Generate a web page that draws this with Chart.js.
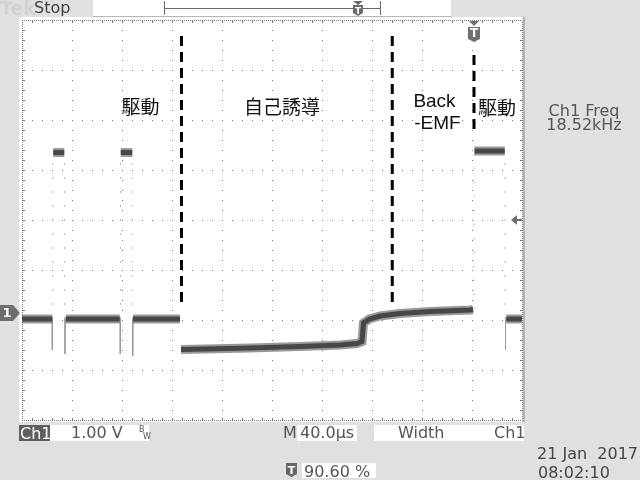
<!DOCTYPE html>
<html><head><meta charset="utf-8">
<script src="https://cdn.jsdelivr.net/npm/chart.js@4/dist/chart.umd.min.js"></script>
<style>html,body{margin:0;padding:0;background:#e0e0e0;overflow:hidden}canvas{display:block}</style>
</head><body><canvas id="c" width="640" height="480"></canvas>
<script>
// ---- data (time in µs, 40 µs/div; volts, 1 V/div, ground = 0) ----
const traceTimes = [0, 24.2, 24.6, 25.0, 33.8, 34.2, 35.0, 78.2, 78.6, 79.0, 88.2, 88.4, 88.8, 126.4, 126.8, 127.2, 182.4, 222.4, 254.4, 268.0, 272.0, 273.2, 278.0, 286.4, 302.4, 326.4, 358.4, 360.8, 361.2, 362.0, 386.2, 386.6, 387.4, 400];
const traceVolts = [-0.12, -0.12, null, 3.21, 3.21, null, -0.12, -0.12, null, 3.21, 3.21, null, -0.12, -0.12, null, -0.73, -0.70, -0.67, -0.64, -0.61, -0.57, -0.20, -0.12, -0.06, -0.01, 0.03, 0.06, 0.07, null, 3.24, 3.24, null, -0.12, -0.12];
const edgeTimes = [24.6, 34.0, 78.8, 88.2, 361.6, 386.4];
const edgeLow = [-0.12, -0.12, -0.12, -0.12, 0.07, -0.12];
const edgeHigh = [3.21, 3.21, 3.21, 3.21, 3.24, 3.24];
const spikeTimes = [24.2, 34.4, 78.6, 88.6, 386.8];
const spikeBase = [-0.12, -0.12, -0.12, -0.12, -0.12];
const spikeDepths = [-0.74, -0.82, -0.82, -0.86, -0.74];
const markerTimes = [127.6, 296.2, 361.6];
const markerTops = [5.54, 5.54, 5.16];
const markerBottoms = [0.18, 0.20, 3.56];
const labelTexts = ['駆動', '自己誘導', 'Back', '-EMF', '駆動'];
const labelTimes = [94.8, 208.0, 330.0, 332.4, 380.0];
const labelVolts = [4.12, 4.12, 4.23, 3.79, 4.10];
const groundVolts = 0;
const triggerLevel = 1.86;
const triggerTime = 361.6;
const timeRange = [0, 400];
const voltRange = [-2.14, 5.86];

// ---- build datasets ----
const tracePts = traceTimes.map((t, i) => ({x: t, y: traceVolts[i]}));
const edgePts = [];
edgeTimes.forEach((t, i) => { edgePts.push({x: t, y: edgeLow[i]}, {x: t, y: edgeHigh[i]}, {x: t, y: null}); });
const spikePts = [];
spikeTimes.forEach((t, i) => { spikePts.push({x: t, y: spikeBase[i]}, {x: t, y: spikeDepths[i]}, {x: t, y: null}); });
const markerSets = markerTimes.map((t, i) => ({
  data: [{x: t, y: markerTops[i]}, {x: t, y: markerBottoms[i]}],
  borderColor: '#000', borderWidth: 3, borderDash: [10, 6], order: 0
}));

const SF = '"DejaVu Sans", sans-serif';
function shield(c, x0, y0, w, h) {
  c.beginPath();
  c.moveTo(x0, y0); c.lineTo(x0 + w, y0); c.lineTo(x0 + w, y0 + h - 3);
  c.lineTo(x0 + w / 2, y0 + h); c.lineTo(x0, y0 + h - 3); c.closePath(); c.fill();
}

const scopePlugin = {
  id: 'scope',
  beforeDraw(chart) {
    const c = chart.ctx, a = chart.chartArea;
    c.save();
    c.fillStyle = '#e0e0e0'; c.fillRect(0, 0, 640, 480);
    c.fillStyle = '#ffffff'; c.fillRect(19, 17, 504, 405);
    c.fillStyle = '#b4b4b4'; c.fillRect(523, 17, 2, 405);
    const L = Math.round(a.left), T = Math.round(a.top), R = Math.round(a.right), B = Math.round(a.bottom);
    const dx = (R - L) / 10, dy = (B - T) / 8;
    c.fillStyle = '#757575';
    for (let i = 1; i < 10; i++) { const x = Math.round(L + i * dx); for (let y = T + 10; y < B; y += 10) c.fillRect(x, y, 1, 1); }
    for (let j = 1; j < 8; j++) { const y = Math.round(T + j * dy); for (let x = L + 10; x < R; x += 10) c.fillRect(x, y, 1, 1); }
    // border dotted
    for (let x = L; x <= R; x += 2) { c.fillRect(x, T, 1, 1); c.fillRect(x, B, 1, 1); }
    for (let y = T; y <= B; y += 2) { c.fillRect(L, y, 1, 1); c.fillRect(R, y, 1, 1); }
    for (let x = L + 10; x < R; x += 10) { c.fillRect(x, T + 1, 1, 2); c.fillRect(x, B - 2, 1, 2); }
    for (let y = T + 10; y < B; y += 10) { c.fillRect(L + 1, y, 2, 1); c.fillRect(R - 2, y, 2, 1); }
    c.restore();
  },
  afterDatasetsDraw(chart) {
    const c = chart.ctx, xs = chart.scales.x, ys = chart.scales.y;
    c.save();
    c.textAlign = 'center'; c.textBaseline = 'middle'; c.fillStyle = '#111';
    labelTexts.forEach((s, i) => {
      const latin = /^[A-Za-z\-]/.test(s);
      c.font = latin ? '19px "Liberation Sans", Arial, sans-serif' : '19px "Noto Sans CJK JP", sans-serif';
      c.fillText(s, xs.getPixelForValue(labelTimes[i]), ys.getPixelForValue(labelVolts[i]));
    });
    c.restore();
  },
  afterDraw(chart) {
    const c = chart.ctx, xs = chart.scales.x, ys = chart.scales.y, a = chart.chartArea;
    c.save();
    // ground marker "1"
    const gy = Math.round(ys.getPixelForValue(groundVolts));
    c.fillStyle = '#6e6e6e';
    c.beginPath(); c.moveTo(0, gy - 8); c.lineTo(13, gy - 8); c.lineTo(20, gy); c.lineTo(13, gy + 8); c.lineTo(0, gy + 8); c.closePath(); c.fill();
    c.fillStyle = '#fff'; c.font = 'bold 13px ' + SF; c.textAlign = 'center'; c.textBaseline = 'middle';
    c.fillText('1', 7, gy + 1);
    // trigger level arrow (right)
    const ty = Math.round(ys.getPixelForValue(triggerLevel));
    c.fillStyle = '#707070';
    c.beginPath(); c.moveTo(511, ty); c.lineTo(517, ty - 5); c.lineTo(517, ty + 5); c.closePath(); c.fill();
    c.fillRect(516, ty - 1, 6, 2);
    // trigger position marker (top)
    const tx = Math.round(xs.getPixelForValue(triggerTime));
    c.beginPath(); c.moveTo(tx - 5, a.top + 1); c.lineTo(tx + 5, a.top + 1); c.lineTo(tx, a.top + 6); c.closePath(); c.fill();
    shield(c, tx - 6, a.top + 7, 12, 15);
    c.fillStyle = '#fff'; c.font = 'bold 12px ' + SF; c.fillText('T', tx, a.top + 14);
    // top bar
    c.textAlign = 'left'; c.textBaseline = 'alphabetic';
    c.fillStyle = '#d2d2d2'; c.font = 'bold 19px ' + SF; c.fillText('Tek', 0, 15);
    c.fillStyle = '#404040'; c.font = '16px ' + SF; c.fillText('Stop', 34, 13);
    c.fillStyle = '#fff'; c.fillRect(93, 0, 358, 16);
    c.fillStyle = '#b8b8b8'; c.fillRect(93, 16, 358, 1);
    c.fillStyle = '#6a6a6a';
    c.fillRect(164, 1, 1, 14); c.fillRect(380, 1, 1, 14); c.fillRect(164, 8, 217, 1);
    c.beginPath(); c.moveTo(353, 1); c.lineTo(363, 1); c.lineTo(358, 5); c.closePath(); c.fill();
    shield(c, 353, 5, 10, 11);
    c.fillStyle = '#fff'; c.font = 'bold 9px ' + SF; c.textAlign = 'center'; c.fillText('T', 358, 14);
    // measurement readout
    c.fillStyle = '#555'; c.font = '16px ' + SF; c.textAlign = 'center';
    c.fillText('Ch1 Freq', 584, 116); c.fillText('18.52kHz', 584, 130);
    // bottom bar
    c.textAlign = 'left';
    c.fillStyle = '#5f5f5f'; c.fillRect(19, 425, 31, 16);
    c.fillStyle = '#fff'; c.fillRect(50, 425, 99, 16); c.fillRect(297, 425, 60, 16); c.fillRect(374, 425, 150, 16); c.fillRect(302, 463, 74, 15);
    c.fillStyle = '#fff'; c.font = '16px ' + SF; c.fillText('Ch1', 20, 439);
    c.fillStyle = '#555';
    c.fillText('1.00 V', 71, 438);
    c.fillText('M', 283, 438); c.fillText('40.0µs', 300, 438);
    c.fillText('Width', 398, 438); c.fillText('Ch1', 494, 438);
    c.fillText('90.60 %', 304, 477);
    c.font = '8px ' + SF; c.fillText('B', 139, 432); c.fillText('W', 143, 439);
    c.fillStyle = '#444'; c.font = '16px ' + SF;
    c.textAlign = 'right'; c.fillText('21 Jan  2017', 638, 459);
    c.textAlign = 'left'; c.fillText('08:02:10', 538, 478);
    c.fillStyle = '#666'; shield(c, 286, 463, 11, 14);
    c.fillStyle = '#fff'; c.font = 'bold 11px ' + SF; c.textAlign = 'center'; c.fillText('T', 291.5, 474);
    c.restore();
  }
};

new Chart(document.getElementById('c'), {
  type: 'line',
  data: {
    datasets: [
      { data: tracePts, borderColor: '#474747', borderWidth: 5, order: 1 },
      { data: tracePts, borderColor: 'rgba(120,120,120,0.75)', borderWidth: 9, order: 2 },
      { data: edgePts, borderColor: '#b4b4b4', borderWidth: 1, borderDash: [2, 12], order: 3 },
      { data: spikePts, borderColor: '#9a9a9a', borderWidth: 1, order: 3 },
      ...markerSets
    ]
  },
  options: {
    responsive: false, animation: false, devicePixelRatio: 1,
    spanGaps: false,
    layout: { padding: { left: 22, right: 118, top: 20, bottom: 60 } },
    scales: {
      x: { type: 'linear', min: timeRange[0], max: timeRange[1], display: false },
      y: { type: 'linear', min: voltRange[0], max: voltRange[1], display: false }
    },
    elements: { point: { radius: 0, hoverRadius: 0 }, line: { tension: 0, fill: false } },
    plugins: { legend: { display: false }, tooltip: { enabled: false } },
    events: []
  },
  plugins: [scopePlugin]
});
</script>
</body></html>
